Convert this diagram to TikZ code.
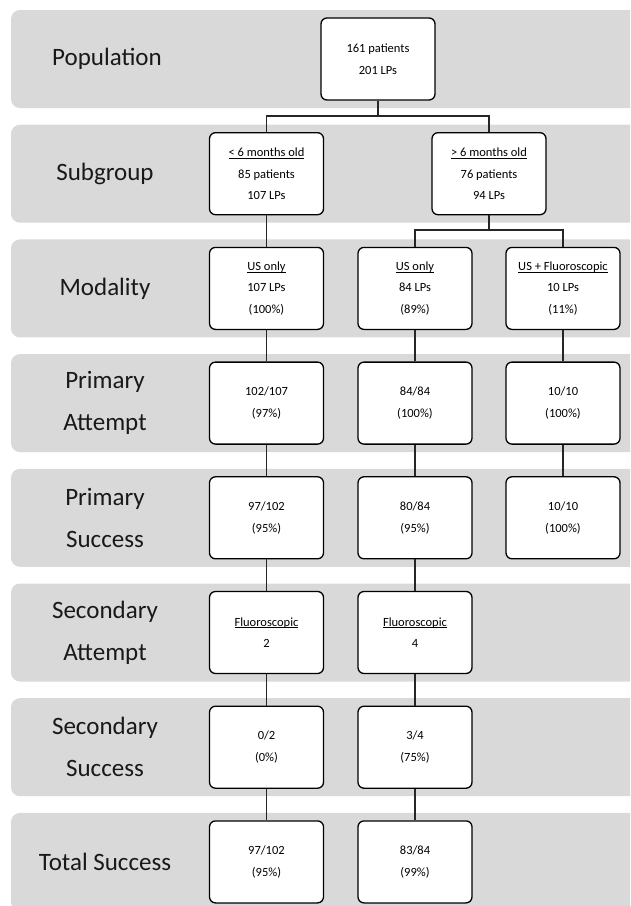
\documentclass[tikz,border=0pt]{standalone}
\usepackage{fontspec}
\setmainfont{Carlito}
\definecolor{bandgray}{RGB}{217,217,217}
\newcommand{\ulx}[1]{\setbox0\hbox{#1}\rlap{\rule[-1.9pt]{\wd0}{0.7pt}}\box0}
\begin{document}
\begin{tikzpicture}[x=1pt,y=-1pt,
  box/.style={draw=black, line width=1.3pt, fill=white, rounded corners=6pt,
    minimum width=114pt, minimum height=82pt, align=center, inner sep=0pt,
    font=\fontsize{12.5}{21.5}\selectfont},
  lbl/.style={align=center, inner sep=0pt, font=\fontsize{25}{42}\selectfont, text=black!90},
  link/.style={draw=black!85, line width=1.1pt}]
\useasboundingbox (0,0) rectangle (630,906);
\begin{scope}
  \clip (0,0) rectangle (630,906);
  \foreach \i in {0,...,7}
    \fill[bandgray, rounded corners=9pt] (11,{10+114.7*\i}) rectangle (680,{108+114.7*\i});
\end{scope}
% labels
\node[lbl] (l1) at (107,59) {Population};
\node[lbl] (l2) at (105,173.7) {Subgroup};
\node[lbl] (l3) at (105,288.4) {Modality};
\node[lbl] (l4) at (105,403.1) {Primary\\Attempt};
\node[lbl] (l5) at (105,517.8) {Primary\\Success};
\node[lbl] (l6) at (105,632.5) {Secondary\\Attempt};
\node[lbl] (l7) at (105,747.2) {Secondary\\Success};
\node[lbl] (l8) at (105,861.9) {Total Success};
% boxes
\node[box] (pop) at (378,59) {161 patients\\201 LPs};
\node[box] (sga) at (266.5,173.7) {\ulx{< 6 months old}\\85 patients\\107 LPs};
\node[box] (sgb) at (489,173.7) {\ulx{> 6 months old}\\76 patients\\94 LPs};
\node[box] (ma) at (266.5,288.4) {\ulx{US only}\\107 LPs\\(100\%)};
\node[box] (mb) at (415,288.4) {\ulx{US only}\\84 LPs\\(89\%)};
\node[box] (mc) at (563,288.4) {\ulx{US + Fluoroscopic}\\10 LPs\\(11\%)};
\node[box] (paa) at (266.5,403.1) {102/107\\(97\%)};
\node[box] (pab) at (415,403.1) {84/84\\(100\%)};
\node[box] (pac) at (563,403.1) {10/10\\(100\%)};
\node[box] (psa) at (266.5,517.8) {97/102\\(95\%)};
\node[box] (psb) at (415,517.8) {80/84\\(95\%)};
\node[box] (psc) at (563,517.8) {10/10\\(100\%)};
\node[box] (saa) at (266.5,632.5) {\ulx{Fluoroscopic}\\2};
\node[box] (sab) at (415,632.5) {\ulx{Fluoroscopic}\\4};
\node[box] (ssa) at (266.5,747.2) {0/2\\(0\%)};
\node[box] (ssb) at (415,747.2) {3/4\\(75\%)};
\node[box] (tsa) at (266.5,861.9) {97/102\\(95\%)};
\node[box] (tsb) at (415,861.9) {83/84\\(99\%)};
% junctions
\coordinate (j1) at (378,116);
\coordinate (j2) at (489,230);
% connectors
\draw[link] (pop.south) -- (j1);
\draw[link] (j1) -| (sga.north);
\draw[link] (j1) -| (sgb.north);
\draw[link] (sga.south) -- (ma.north);
\draw[link] (sgb.south) -- (j2);
\draw[link] (j2) -| (mb.north);
\draw[link] (j2) -| (mc.north);
\draw[link] (ma.south) -- (paa.north);
\draw[link] (mb.south) -- (pab.north);
\draw[link] (mc.south) -- (pac.north);
\draw[link] (paa.south) -- (psa.north);
\draw[link] (pab.south) -- (psb.north);
\draw[link] (pac.south) -- (psc.north);
\draw[link] (psa.south) -- (saa.north);
\draw[link] (psb.south) -- (sab.north);
\draw[link] (saa.south) -- (ssa.north);
\draw[link] (sab.south) -- (ssb.north);
\draw[link] (ssa.south) -- (tsa.north);
\draw[link] (ssb.south) -- (tsb.north);
\end{tikzpicture}
\end{document}
